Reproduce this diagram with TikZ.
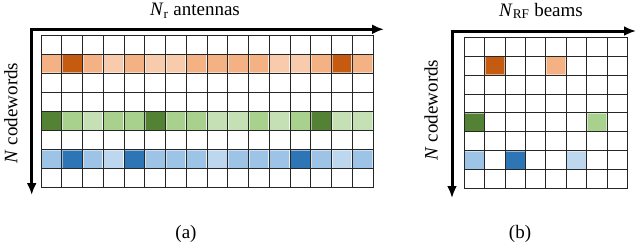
\documentclass[tikz,border=0pt]{standalone}
\usepackage{fontspec}
\setmainfont{Liberation Serif}
\usetikzlibrary{arrows.meta}
\definecolor{od}{HTML}{C55A11}
\definecolor{om}{HTML}{F4B183}
\definecolor{ol}{HTML}{F8CBAD}
\definecolor{gd}{HTML}{548235}
\definecolor{gm}{HTML}{A9D18E}
\definecolor{gl}{HTML}{C5E0B4}
\definecolor{bd}{HTML}{2E75B6}
\definecolor{bm}{HTML}{9DC3E6}
\definecolor{bl}{HTML}{BDD7EE}

\begin{document}
\begin{tikzpicture}[x=1pt, y=-1pt,
    axis/.style={line width=3pt, -{Latex[length=12pt, width=10pt]}},
    cellbox/.style={draw=white, draw opacity=0.5, line width=2pt},
    gridline/.style={black!85, line width=1pt},
    lbl/.style={font=\fontsize{19}{22}\selectfont, inner sep=0pt}]

  \useasboundingbox (0,0) rectangle (640,242);

  % ── Layout ──────────────────────────────────────────────────────────
  \def\ax{41}   \def\ay{35}     % grid (a), top left
  \def\cwa{20.75} \def\cha{19.1}
  \def\bx{464.3} \def\by{37.3}  % grid (b), top left
  \def\cwb{20.4} \def\chb{18.9}

  % ── (a) coloured rows ───────────────────────────────────────────────
  \foreach \c [count=\i from 0] in {om,od,om,ol,om,ol,ol,om,om,om,om,ol,ol,om,od,om}
    \filldraw[cellbox, fill=\c] (\ax+\i*\cwa, \ay+1*\cha) rectangle ++(\cwa,\cha);
  \foreach \c [count=\i from 0] in {gd,gm,gl,gm,gm,gd,gm,gm,gl,gl,gm,gl,gm,gd,gl,gl}
    \filldraw[cellbox, fill=\c] (\ax+\i*\cwa, \ay+4*\cha) rectangle ++(\cwa,\cha);
  \foreach \c [count=\i from 0] in {bm,bd,bm,bl,bd,bm,bm,bm,bl,bm,bm,bm,bd,bm,bl,bm}
    \filldraw[cellbox, fill=\c] (\ax+\i*\cwa, \ay+6*\cha) rectangle ++(\cwa,\cha);

  % ── (a) grid ────────────────────────────────────────────────────────
  \foreach \i in {0,...,16}
    \draw[gridline] (\ax+\i*\cwa, \ay) -- (\ax+\i*\cwa, \ay+8*\cha);
  \foreach \j in {0,...,8}
    \draw[gridline] (\ax, \ay+\j*\cha) -- (\ax+16*\cwa, \ay+\j*\cha);

  % ── (a) axes ────────────────────────────────────────────────────────
  \coordinate (oa) at (31.7,29.3);
  \coordinate (xa) at (384,29.3);
  \coordinate (ya) at (31.7,195);
  \draw[axis] ([xshift=-1.5pt]oa) -- (xa);
  \draw[axis] ([yshift=1.5pt]oa) -- (ya);
  \node[lbl] (ta) at (195,11) {\textit{N}\textsubscript{r} antennas};
  \node[lbl, rotate=90] (na) at (11,113) {\textit{N} codewords};
  \node[lbl] (ca) at (186,234) {(a)};

  % ── (b) coloured cells ──────────────────────────────────────────────
  \foreach \i/\j/\c in {1/1/od, 4/1/om, 0/4/gd, 6/4/gm, 0/6/bm, 2/6/bd, 5/6/bl}
    \filldraw[cellbox, fill=\c] (\bx+\i*\cwb, \by+\j*\chb) rectangle ++(\cwb,\chb);

  % ── (b) grid ────────────────────────────────────────────────────────
  \foreach \i in {0,...,8}
    \draw[gridline] (\bx+\i*\cwb, \by) -- (\bx+\i*\cwb, \by+8*\chb);
  \foreach \j in {0,...,8}
    \draw[gridline] (\bx, \by+\j*\chb) -- (\bx+8*\cwb, \by+\j*\chb);

  % ── (b) axes ────────────────────────────────────────────────────────
  \coordinate (ob) at (452,31);
  \coordinate (xb) at (636,31);
  \coordinate (yb) at (452,198);
  \draw[axis] ([xshift=-1.5pt]ob) -- (xb);
  \draw[axis] ([yshift=1.5pt]ob) -- (yb);
  \node[lbl] (tb) at (541,11) {\textit{N}\textsubscript{RF} beams};
  \node[lbl, rotate=90] (nb) at (431,110) {\textit{N} codewords};
  \node[lbl] (cb) at (520,234) {(b)};

\end{tikzpicture}
\end{document}
